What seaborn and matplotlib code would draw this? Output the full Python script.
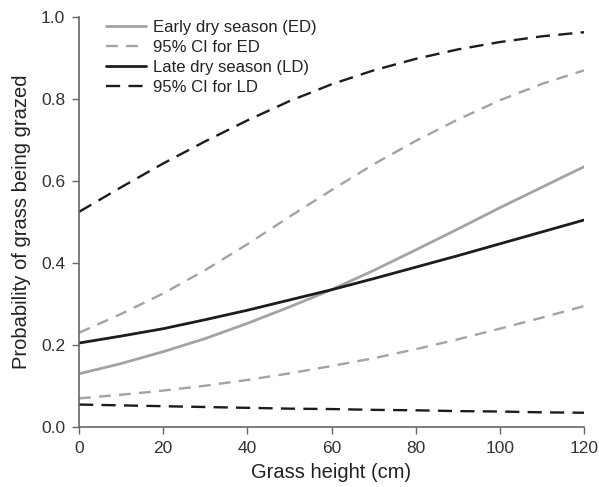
import numpy as np
import pandas as pd
import matplotlib
matplotlib.use("Agg")
import matplotlib.pyplot as plt
import seaborn as sns

height = [0, 10, 20, 30, 40, 50, 60, 70, 80, 90, 100, 110, 120]
ed_mean = [0.130, 0.155, 0.184, 0.216, 0.253, 0.293, 0.335, 0.382, 0.432, 0.483, 0.535, 0.585, 0.635]
ed_upper = [0.230, 0.276, 0.326, 0.383, 0.446, 0.513, 0.578, 0.641, 0.698, 0.750, 0.797, 0.837, 0.870]
ed_lower = [0.070, 0.079, 0.089, 0.101, 0.115, 0.131, 0.149, 0.168, 0.190, 0.214, 0.240, 0.267, 0.295]
ld_mean = [0.205, 0.222, 0.240, 0.262, 0.285, 0.310, 0.335, 0.362, 0.390, 0.418, 0.447, 0.476, 0.505]
ld_upper = [0.525, 0.585, 0.643, 0.697, 0.748, 0.795, 0.836, 0.870, 0.898, 0.921, 0.939, 0.953, 0.963]
ld_lower = [0.055, 0.053, 0.051, 0.049, 0.047, 0.045, 0.044, 0.042, 0.041, 0.039, 0.038, 0.036, 0.035]

sns.set_style("ticks")
plt.rcParams['font.family'] = ['Liberation Sans', 'DejaVu Sans']

fig = plt.figure(figsize=(5.99, 4.87), dpi=100)
ax = fig.add_axes([0.132, 0.123, 0.843, 0.842])

gray = "#a3a3a3"
black = "#1c1c1c"

sns.lineplot(x=height, y=ed_mean, ax=ax, color=gray, lw=2.0, label="Early dry season (ED)")
sns.lineplot(x=height, y=ed_upper, ax=ax, color=gray, lw=1.7, label="95% CI for ED")
sns.lineplot(x=height, y=ld_mean, ax=ax, color=black, lw=2.0, label="Late dry season (LD)")
sns.lineplot(x=height, y=ld_upper, ax=ax, color=black, lw=1.7, label="95% CI for LD")
sns.lineplot(x=height, y=ed_lower, ax=ax, color=gray, lw=1.7)
sns.lineplot(x=height, y=ld_lower, ax=ax, color=black, lw=1.7)

lines = ax.get_lines()
lines[1].set_linestyle((0, (5, 3.5)))
lines[3].set_linestyle((0, (6, 3.5)))
lines[4].set_linestyle((0, (5, 3.5)))
lines[5].set_linestyle((0, (6, 3.5)))

ax.set_xlim(0, 120)
ax.set_ylim(0, 1.0)
ax.set_xticks([0, 20, 40, 60, 80, 100, 120])
ax.set_yticks([0.0, 0.2, 0.4, 0.6, 0.8, 1.0])
ax.set_yticklabels(["0.0", "0.2", "0.4", "0.6", "0.8", "1.0"])
ax.tick_params(labelsize=12.5, colors="#333333", length=5, width=1, color="#666666", pad=5)
for s in ["left", "bottom"]:
    ax.spines[s].set_color("#666666")
    ax.spines[s].set_linewidth(1.2)
sns.despine(ax=ax)

ax.set_xlabel("Grass height (cm)", fontsize=14.5, color="#222222", labelpad=5)
ax.set_ylabel("Probability of grass being grazed", fontsize=14.5, color="#222222", labelpad=7)

leg = ax.legend(loc="upper left", frameon=False, fontsize=12, handlelength=2.4,
                handletextpad=0.45, labelspacing=0.3, borderaxespad=0.0,
                borderpad=0.0, bbox_to_anchor=(0.053, 0.993))
for t in leg.get_texts():
    t.set_color("#222222")

fig.savefig("out.png", dpi=100)
